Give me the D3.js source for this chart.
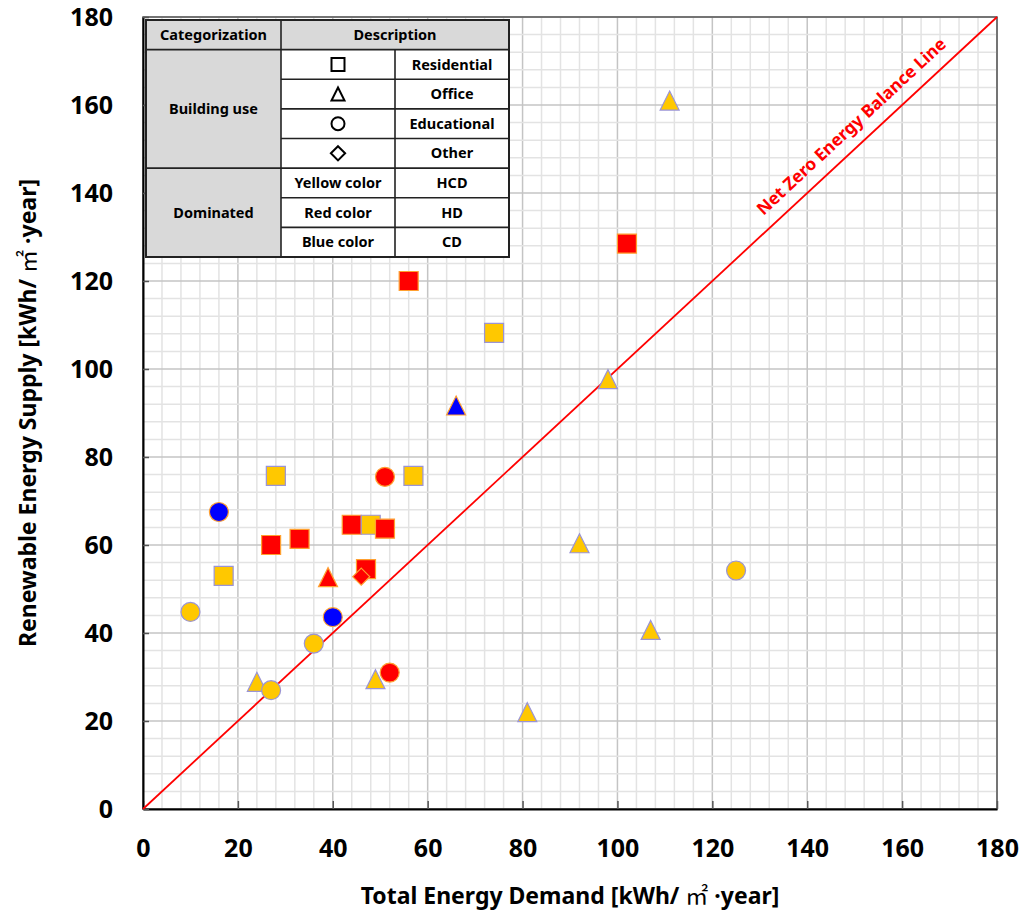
<!DOCTYPE html>
<html>
<head>
<meta charset="utf-8">
<script src="https://cdn.jsdelivr.net/npm/d3@7"></script>
<style>
  body { margin: 0; background: #fff; }
  svg { display: block; font-family: "Noto Sans", "Noto Sans CJK KR", sans-serif; font-weight: bold; }
</style>
</head>
<body>
<div id="chart"></div>
<script>
// demand (x), supply (y), building use, dominated type
var demand = [111, 102, 56, 74, 66, 98, 28, 57, 51, 16, 44, 48, 51, 33, 27, 92, 39, 47, 46, 17, 10, 40, 125, 107, 36, 24, 27, 49, 52, 81];
var supply = [161, 128.5, 120, 108.2, 91.7, 97.7, 75.7, 75.7, 75.5, 67.5, 64.6, 64.6, 63.7, 61.4, 60, 60.4, 52.7, 54.5, 52.8, 53, 44.8, 43.6, 54.2, 40.7, 37.6, 28.9, 27, 29.5, 31, 22];
var use = ["Office", "Residential", "Residential", "Residential", "Office", "Office", "Residential", "Residential", "Educational", "Educational",
           "Residential", "Residential", "Residential", "Residential", "Residential", "Office", "Office", "Residential", "Other", "Residential",
           "Educational", "Educational", "Educational", "Office", "Educational", "Office", "Educational", "Office", "Educational", "Office"];
var dominated = ["HCD", "HD", "HD", "HCD", "CD", "HCD", "HCD", "HCD", "HD", "CD",
                 "HD", "HCD", "HD", "HD", "HD", "HCD", "HD", "HD", "HD", "HCD",
                 "HCD", "CD", "HCD", "HCD", "HCD", "HCD", "HCD", "HCD", "HD", "HCD"];

var xTicks = [0, 20, 40, 60, 80, 100, 120, 140, 160, 180];
var yTicks = [0, 20, 40, 60, 80, 100, 120, 140, 160, 180];

var useTypes = ["Residential", "Office", "Educational", "Other"];
var colorRows = [["Yellow color", "HCD"], ["Red color", "HD"], ["Blue color", "CD"]];

var margin = { top: 17, right: 27, bottom: 114, left: 143 },
    width = 1024 - margin.left - margin.right,
    height = 923 - margin.top - margin.bottom;

var svg = d3.select("#chart")
    .append("svg")
    .attr("width", 1024)
    .attr("height", 923);

var g = svg.append("g")
    .attr("transform", "translate(" + margin.left + "," + margin.top + ")");

var x = d3.scaleLinear().domain([0, 180]).range([0, width]);
var y = d3.scaleLinear().domain([0, 180]).range([height, 0]);

var fill = { HCD: "#ffc800", HD: "#ff0000", CD: "#0000ff" };
var edge = { HCD: "#9a94d6", HD: "#ffa030", CD: "#ffa030" };

// grid: minor every 4, major every 20
var minor = d3.range(0, 181, 4);
g.selectAll(".vminor").data(minor).enter().append("line")
    .attr("x1", d => x(d)).attr("x2", d => x(d))
    .attr("y1", 0).attr("y2", height)
    .attr("stroke", d => d % 20 == 0 ? "#c4c4c4" : "#e3e3e3")
    .attr("stroke-width", 1.5);
g.selectAll(".hminor").data(minor).enter().append("line")
    .attr("y1", d => y(d)).attr("y2", d => y(d))
    .attr("x1", 0).attr("x2", width)
    .attr("stroke", d => d % 20 == 0 ? "#c4c4c4" : "#e3e3e3")
    .attr("stroke-width", 1.5);

// frame
g.append("rect")
    .attr("width", width).attr("height", height)
    .attr("fill", "none").attr("stroke", "#555").attr("stroke-width", 1.5);

// axes
var xAxis = g.append("g")
    .attr("transform", "translate(0," + height + ")")
    .call(d3.axisBottom(x).tickValues(xTicks).tickSizeInner(-8).tickSizeOuter(0).tickPadding(30));
var yAxis = g.append("g")
    .call(d3.axisLeft(y).tickValues(yTicks).tickSizeInner(-6).tickSizeOuter(0).tickPadding(30));

[xAxis, yAxis].forEach(function (a) {
    a.select(".domain").attr("stroke", "#000").attr("stroke-width", 2);
    a.selectAll(".tick line").attr("stroke", "#555").attr("stroke-width", 1.5);
    a.selectAll(".tick text")
        .attr("fill", "#000")
        .style("font-size", "25px")
        .style("font-weight", "bold")
        .style("font-family", "'Noto Sans', sans-serif");
});
yAxis.selectAll(".tick text").attr("dy", "0.35em");

// net zero line
g.append("line")
    .attr("x1", x(0)).attr("y1", y(0))
    .attr("x2", x(180)).attr("y2", y(180))
    .attr("stroke", "#ff0000").attr("stroke-width", 1.8);

var ang = -Math.atan2(y(0) - y(180), x(180) - x(0)) * 180 / Math.PI;
g.append("text")
    .attr("transform", "translate(" + x(152) + "," + y(152) + ") rotate(" + ang + ")")
    .attr("dy", -13)
    .attr("text-anchor", "middle")
    .attr("fill", "#ff0000")
    .style("font-size", "17.2px")
    .text("Net Zero Energy Balance Line");

// marker shapes, centred on their bounding box
function shape(type, r) {
    if (type == "Residential") {
        return "M" + -r + "," + -r + "H" + r + "V" + r + "H" + -r + "Z";
    } else if (type == "Office") {
        return "M0," + -r + "L" + r + "," + r + "H" + -r + "Z";
    } else if (type == "Educational") {
        return d3.symbol(d3.symbolCircle, Math.PI * r * r)();
    } else {
        var k = r * 0.95;
        return "M0," + -k + "L" + k + ",0L0," + k + "L" + -k + ",0Z";
    }
}

var points = demand.map(function (d, i) {
    return { x: d, y: supply[i], use: use[i], dom: dominated[i] };
});

g.selectAll(".pt")
    .data(points)
    .enter()
    .append("path")
    .attr("class", "pt")
    .attr("transform", d => "translate(" + x(d.x) + "," + y(d.y) + ")")
    .attr("d", d => shape(d.use, d.use == "Other" ? 9 : 9.5))
    .attr("fill", d => fill[d.dom])
    .attr("stroke", d => edge[d.dom])
    .attr("stroke-width", 1.2);

// axis titles (the unit glyph comes from the CJK font, as in the original)
function unitTitle(sel, label) {
    sel.append("tspan").text(label + " [kWh/ ");
    sel.append("tspan").style("font-family", "'Noto Sans CJK KR'").style("font-weight", "normal").text("㎡");
    sel.append("tspan").text(" ·year]");
}

svg.append("text")
    .attr("x", margin.left + width / 2)
    .attr("y", 904)
    .attr("text-anchor", "middle")
    .style("font-size", "23px")
    .call(unitTitle, "Total Energy Demand");

svg.append("text")
    .attr("transform", "translate(36," + (margin.top + height / 2) + ") rotate(-90)")
    .attr("text-anchor", "middle")
    .style("font-size", "23px")
    .call(unitTitle, "Renewable Energy Supply");

// legend table
var tx = [146, 281, 395, 509];
var rowH = (257 - 20) / 8;
var ty = d3.range(9).map(i => 20 + i * rowH);
var tab = svg.append("g");

tab.append("rect").attr("x", tx[0]).attr("y", ty[0]).attr("width", tx[3] - tx[0]).attr("height", rowH).attr("fill", "#d9d9d9");
tab.append("rect").attr("x", tx[0]).attr("y", ty[1]).attr("width", tx[1] - tx[0]).attr("height", ty[8] - ty[1]).attr("fill", "#d9d9d9");
tab.append("rect").attr("x", tx[1]).attr("y", ty[1]).attr("width", tx[3] - tx[1]).attr("height", ty[8] - ty[1]).attr("fill", "#fff");

var lines = [];
for (var i = 1; i < 8; i++) {
    lines.push([i == 1 || i == 5 ? tx[0] : tx[1], ty[i], tx[3], ty[i]]);
}
lines.push([tx[1], ty[0], tx[1], ty[8]]);
lines.push([tx[2], ty[1], tx[2], ty[8]]);
tab.selectAll(".tl").data(lines).enter().append("line")
    .attr("x1", d => d[0]).attr("y1", d => d[1]).attr("x2", d => d[2]).attr("y2", d => d[3])
    .attr("stroke", "#222").attr("stroke-width", 1.6);
tab.append("rect")
    .attr("x", tx[0]).attr("y", ty[0]).attr("width", tx[3] - tx[0]).attr("height", ty[8] - ty[0])
    .attr("fill", "none").attr("stroke", "#222").attr("stroke-width", 2);

function cell(cx, cy, s) {
    tab.append("text").attr("x", cx).attr("y", cy).attr("dy", "0.35em")
        .attr("text-anchor", "middle").style("font-size", "14.5px").text(s);
}
cell((tx[0] + tx[1]) / 2, (ty[0] + ty[1]) / 2, "Categorization");
cell((tx[1] + tx[3]) / 2, (ty[0] + ty[1]) / 2, "Description");
cell((tx[0] + tx[1]) / 2, (ty[1] + ty[5]) / 2, "Building use");
cell((tx[0] + tx[1]) / 2, (ty[5] + ty[8]) / 2, "Dominated");
useTypes.forEach(function (u, i) {
    var cy = (ty[1 + i] + ty[2 + i]) / 2;
    cell((tx[2] + tx[3]) / 2, cy, u);
    tab.append("path")
        .attr("transform", "translate(" + (tx[1] + tx[2]) / 2 + "," + cy + ")")
        .attr("d", shape(u, u == "Other" ? 7.5 : 6.5))
        .attr("fill", "none").attr("stroke", "#000").attr("stroke-width", 2);
});
colorRows.forEach(function (r, i) {
    var cy = (ty[5 + i] + ty[6 + i]) / 2;
    cell((tx[1] + tx[2]) / 2, cy, r[0]);
    cell((tx[2] + tx[3]) / 2, cy, r[1]);
});
</script>
</body>
</html>
